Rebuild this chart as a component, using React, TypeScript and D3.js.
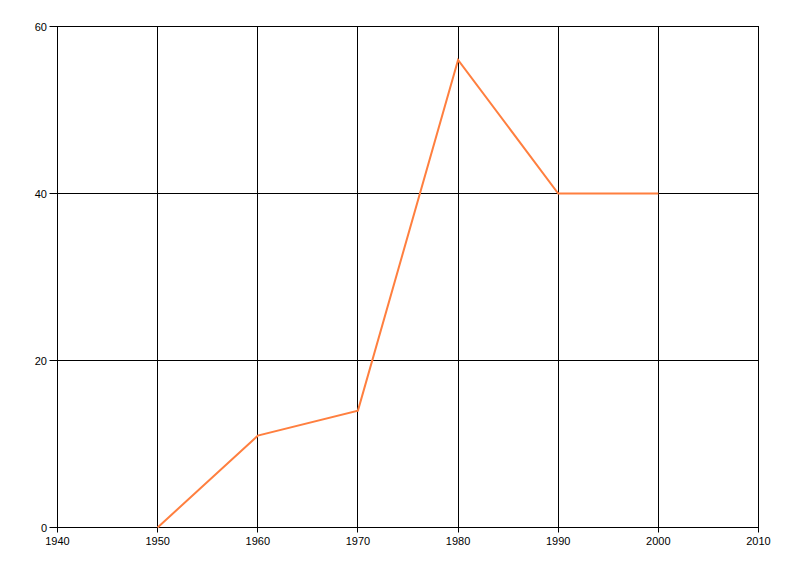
import React from "react";
import * as d3 from "d3";

const years = [1950, 1960, 1970, 1980, 1990, 2000];
const values = [0, 11, 14, 56, 40, 40];
const xTicks = [1940, 1950, 1960, 1970, 1980, 1990, 2000, 2010];
const yTicks = [0, 20, 40, 60];

export default function App() {
  const W = 800, H = 576;
  const left = 57.5, right = 758.5, top = 26.5, bottom = 527.5;
  const x = d3.scaleLinear().domain([1940, 2010]).range([left, right]);
  const y = d3.scaleLinear().domain([0, 60]).range([bottom, top]);
  const pts = years.map((yr, i) => [yr, values[i]] as [number, number]);
  const line = d3.line<[number, number]>().x(d => x(d[0])).y(d => y(d[1]));
  return (
    <svg width={W} height={H} style={{ position: "absolute", left: 0, top: 0, background: "#fff" }}
      fontFamily="'Liberation Sans', Arial, sans-serif" fontSize={11}>
      {xTicks.map(t => (
        <g key={"x" + t}>
          <line x1={Math.floor(x(t)) + 0.5} x2={Math.floor(x(t)) + 0.5} y1={Math.floor(top)} y2={bottom + 5} stroke="#000" />
          <text x={x(t)} y={545} textAnchor="middle" fill="#000">{t}</text>
        </g>
      ))}
      {yTicks.map(t => (
        <g key={"y" + t}>
          <line x1={left - 8} x2={right} y1={Math.floor(y(t)) + 0.5} y2={Math.floor(y(t)) + 0.5} stroke="#000" />
          <text x={47} y={y(t) + 4} textAnchor="end" fill="#000">{t}</text>
        </g>
      ))}
      <path d={line(pts) || ""} fill="none" stroke="#FF7F3F" strokeWidth={2} />
    </svg>
  );
}
